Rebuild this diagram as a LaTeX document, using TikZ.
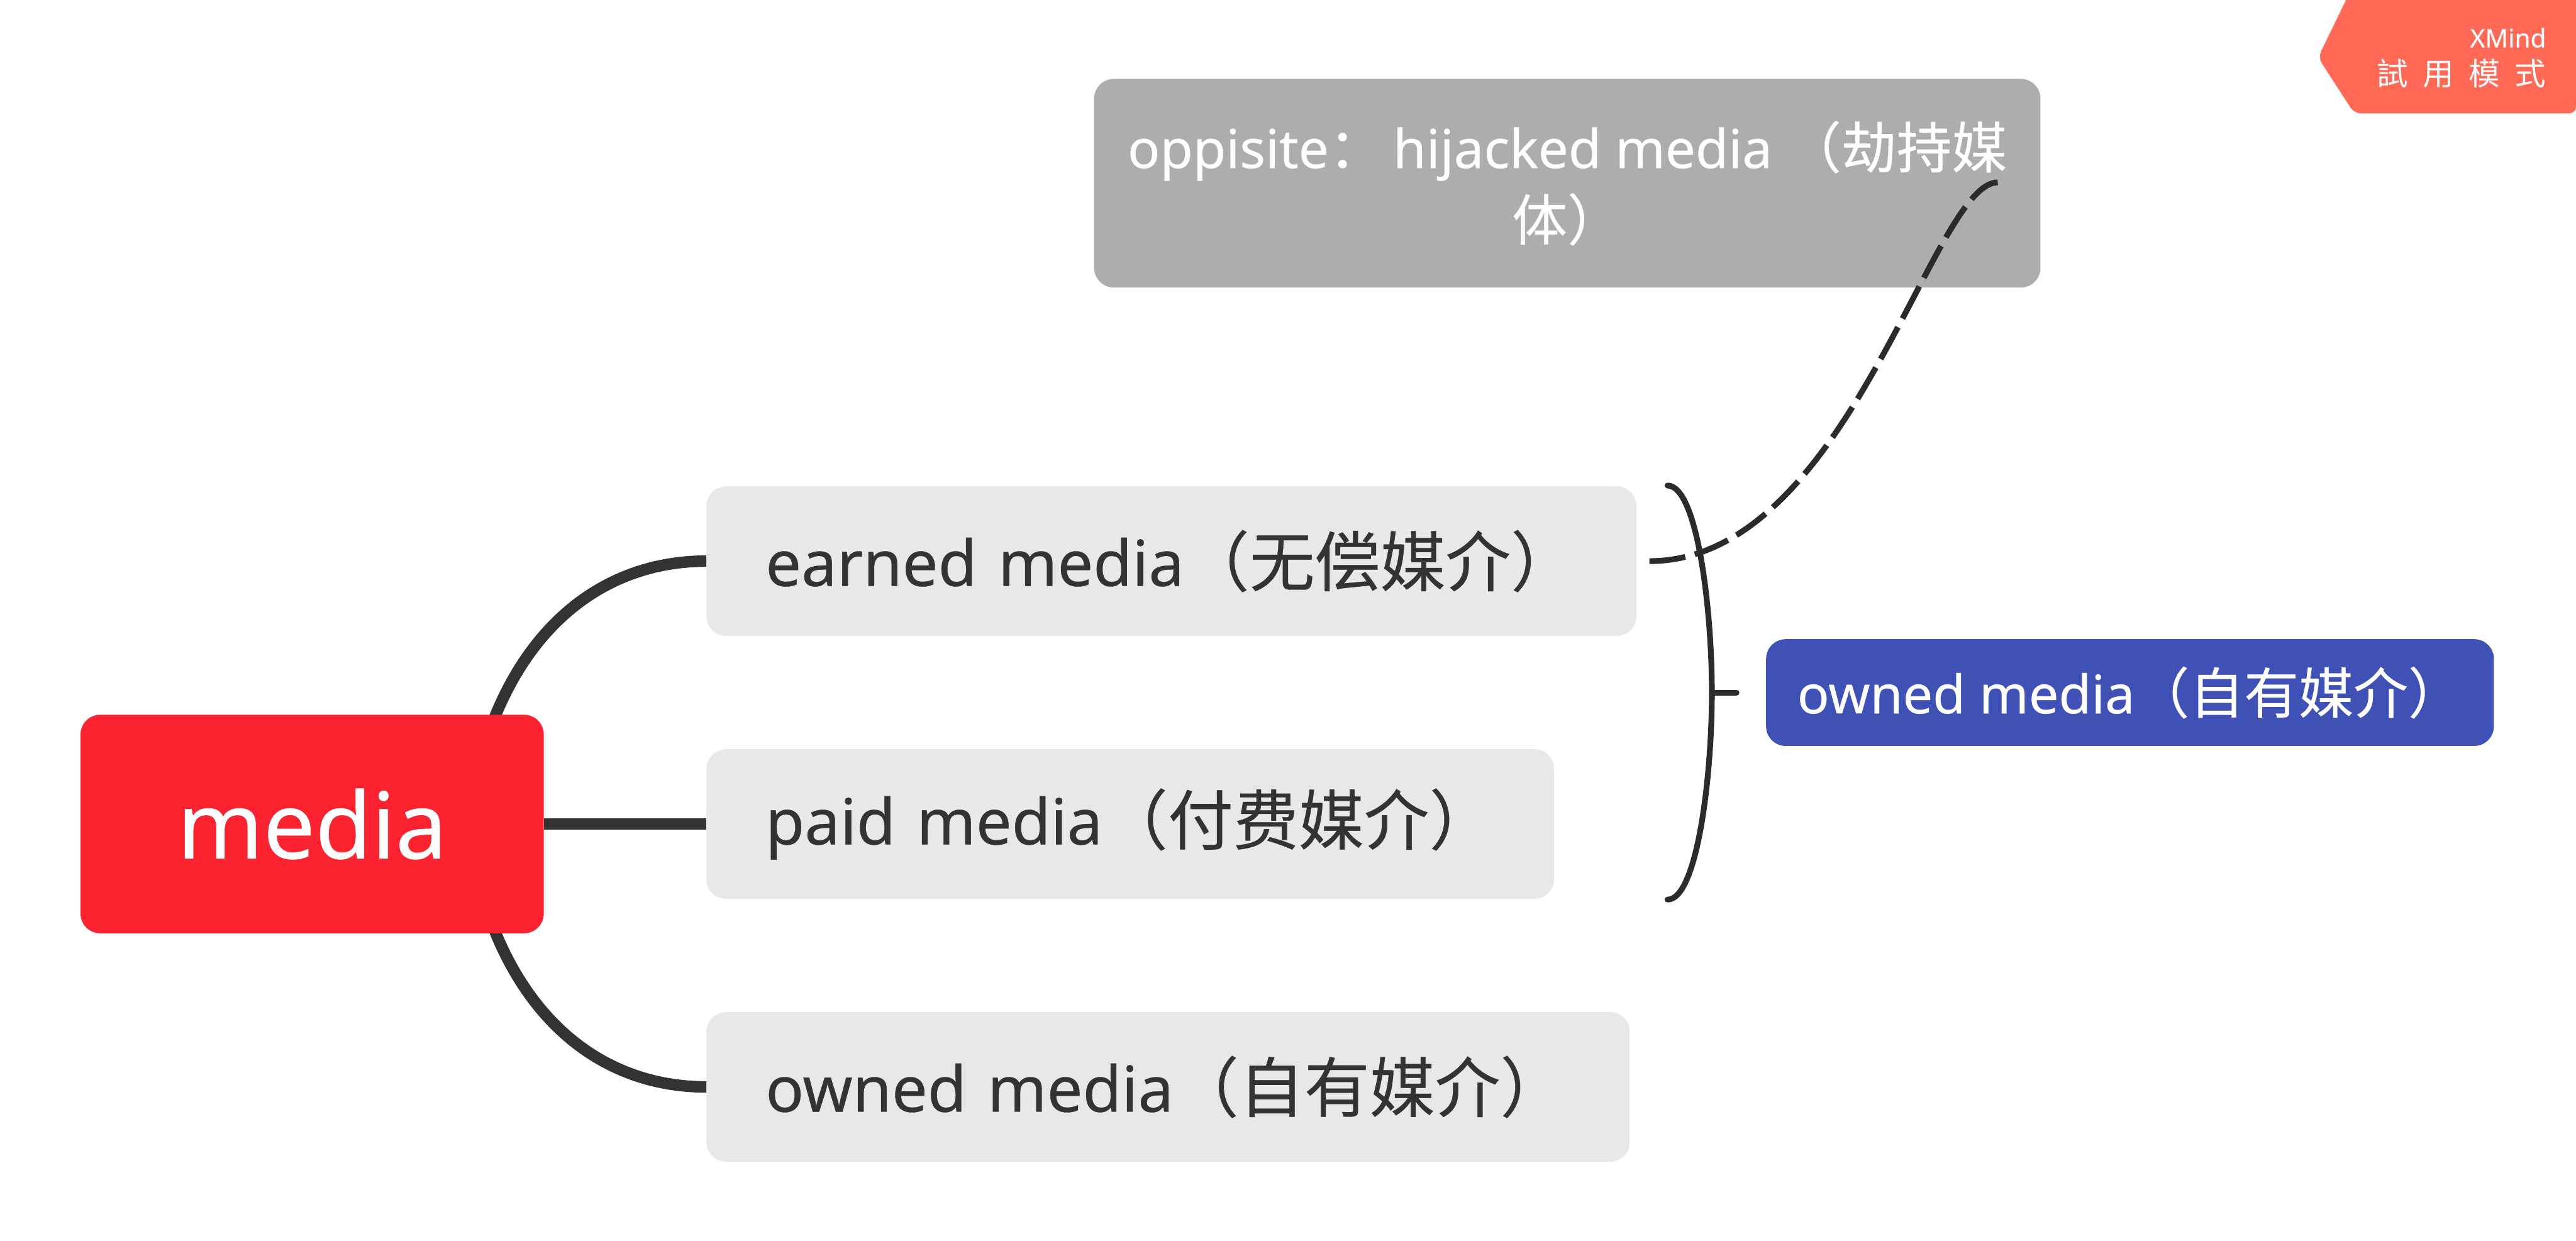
\documentclass[tikz,border=0pt]{standalone}
\usepackage{fontspec}
\usepackage{tikz}
\usetikzlibrary{positioning,backgrounds}
\setmainfont[FakeBold=0.35]{Noto Sans}
\newfontfamily\cjkfont[Scale=1.03,FakeBold=0.3]{Noto Sans CJK SC}
\newfontfamily\cjktcfont{Noto Sans CJK TC}
\definecolor{mred}{HTML}{FA232F}
\definecolor{mgrey}{HTML}{E8E8E8}
\definecolor{mnote}{HTML}{ADADAD}
\definecolor{mblue}{HTML}{3F51B5}
\definecolor{mdark}{HTML}{333333}
\definecolor{mline}{HTML}{2B2B2B}
\definecolor{mtrial}{HTML}{FF6955}

\begin{document}
\begin{tikzpicture}[
  x=1pt, y=-1pt,
  blk/.style={rectangle, rounded corners=12pt, outer sep=0pt, inner xsep=0pt, inner ysep=0pt},
  topicbox/.style={blk, fill=mgrey, text=mdark, font=\fontsize{38.6}{46}\selectfont, minimum height=91pt, align=left},
  branch/.style={line width=7pt, color=mdark},
  rel/.style={line width=3.5pt, color=mline}
]
\useasboundingbox (0,0) rectangle (1568,755);

\node[blk, fill=mred, text=white, font=\fontsize{56}{66}\selectfont, minimum width=282pt, minimum height=133pt] (root) at (190,501.5) {media};
\node[topicbox, right=99pt of root, minimum width=516pt, text width=444pt] (paid) {paid media{\cjkfont（付费媒介）}};
\node[topicbox, above=69pt of paid.north west, anchor=south west, minimum width=566pt, text width=494pt] (earned) {earned media{\cjkfont（无偿媒介）}};
\node[topicbox, below=69pt of paid.south west, anchor=north west, minimum width=562pt, text width=490pt] (owned) {owned media{\cjkfont（自有媒介）}};

\coordinate (bracetop) at (1015,295.5);
\coordinate (bracemid) at (1042,421.5);
\coordinate (bracetip) at (1057,421.5);
\coordinate (bracebot) at (1015,547.5);
\node[blk, fill=mblue, text=white, font=\fontsize{32.3}{40}\selectfont, right=18pt of bracetip, minimum width=443pt, minimum height=65pt] (summary) {owned media{\cjkfont（自有媒介）}};

\node[blk, fill=mnote, text=white, font=\fontsize{32.6}{54}\selectfont, align=center, minimum width=576pt, minimum height=127pt] (note) at (954,111.5) {oppisite{\cjkfont：\,}hijacked media {\cjkfont（劫持媒}\\[-10pt]{\cjkfont 体）}};

% connectors behind the boxes
\coordinate (rootup) at (299,442);
\coordinate (rootdown) at (299,561);
\begin{scope}[on background layer]
\draw[branch] (rootup) .. controls (323,378) and (370,341.5) .. (earned.west);
\draw[branch] (root.east) -- (paid.west);
\draw[branch] (rootdown) .. controls (323,625) and (370,661.5) .. (owned.west);
\end{scope}

\draw[rel, line cap=round] (bracetop) .. controls (1033,295.5) and (1042,370) .. (bracemid) .. controls (1042,473) and (1033,547.5) .. (bracebot);
\draw[rel, line cap=round] (bracemid) -- (bracetip);

\coordinate[right=8pt of earned] (relfrom);
\coordinate (relto) at (1216,111);
\draw[rel, dash pattern=on 22pt off 6pt] (relfrom) .. controls (1125,341.5) and (1176,111) .. (relto);

% trial badge
\fill[mtrial] (1568,0) -- (1428,0) [rounded corners=4pt] -- (1411,35) -- (1433,69) -- (1568,69) [sharp corners] -- cycle;
\node[anchor=east, text=white, font=\fontsize{15.5}{18}\selectfont, inner sep=0pt] (trialname) at (1550,23) {XMind};
\node[anchor=east, text=white, font=\fontsize{19}{22}\selectfont\cjktcfont, inner sep=0pt] (trialmode) at (1550,44.5) {試\hspace{9pt}用\hspace{9pt}模\hspace{9pt}式};
\end{tikzpicture}
\end{document}
